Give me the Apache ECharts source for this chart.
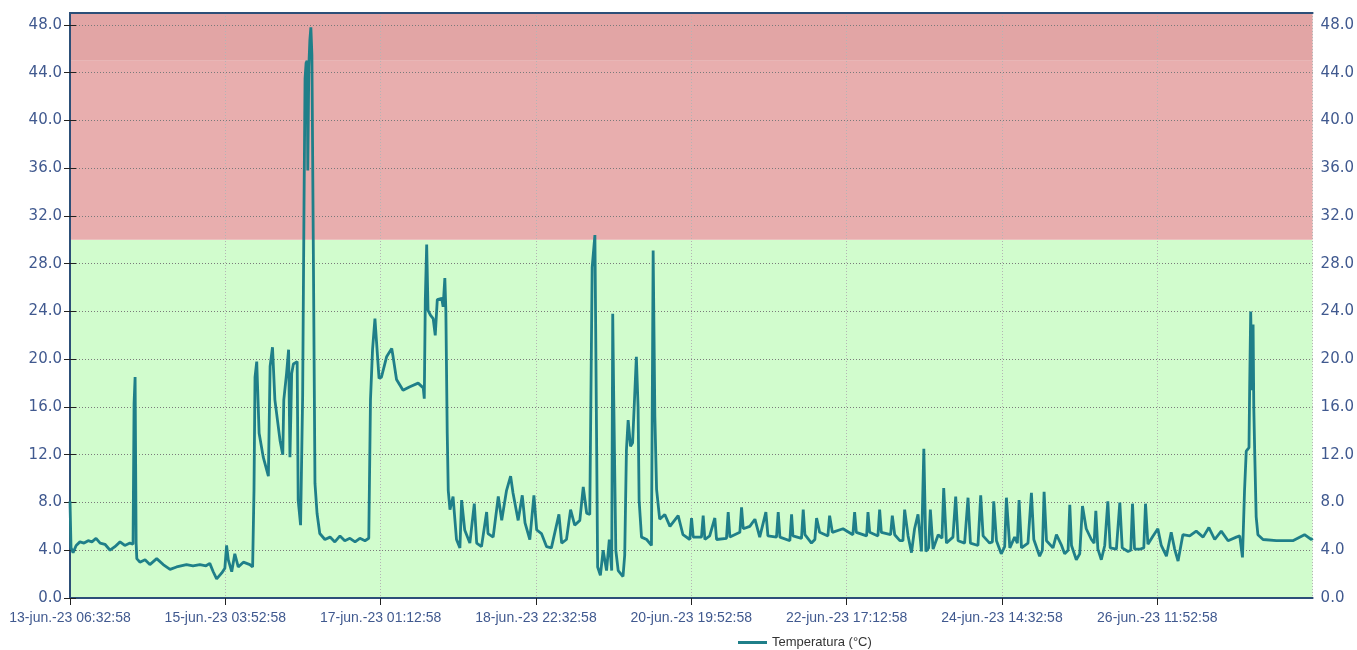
<!DOCTYPE html>
<html>
<head>
<meta charset="utf-8">
<script src="https://cdn.jsdelivr.net/npm/echarts@6/dist/echarts.min.js"></script>
<style>
html,body{margin:0;padding:0;background:#fff;}
#chart{width:1357px;height:650px;}
</style>
</head>
<body>
<div id="chart"></div>
<script>
// Start of the record: 13-jun-2023 06:32:58
const startTime = { y: 2023, m: 5, d: 13, hh: 6, mm: 32, ss: 58 };
// Axis range / tick step in minutes from the start
const xMaxMinutes = 21760;
const xTickMinutes = 2720;
const yMin = 0, yMax = 49, yTick = 4;
// Alarm bands (°C)
const bandLimits = [0, 30, 45, 49];
const seriesName = 'Temperatura (°C)';

// Hours since start
const timeHours = [
0.0,0.3,0.9,1.8,2.9,4.1,5.3,6.4,7.6,8.8,10.2,11.7,13.1,14.6,16.0,17.5,18.4,18.7,19.0,19.3,19.5,
20.4,21.9,23.3,25.3,27.2,29.2,31.1,34.0,35.9,37.9,39.7,40.8,41.8,42.8,44.3,45.2,45.7,46.2,47.2,48.1,49.1,50.6,52.5,53.3,
53.7,54.0,54.5,55.2,56.4,57.9,58.4,59.1,59.8,61.3,62.1,62.4,63.2,63.8,64.2,64.7,65.2,66.3,66.6,67.3,67.9,
68.3,68.6,68.9,69.2,69.4,69.7,70.0,70.3,70.6,70.8,71.0,71.5,72.1,72.9,74.4,75.9,77.3,78.8,80.2,81.7,83.2,84.6,86.1,87.2,
87.7,88.3,89.0,89.5,90.2,90.9,92.4,93.9,94.3,95.3,97.2,99.2,101.6,103.1,103.4,103.7,104.1,104.5,105.2,106.0,106.6,107.2,
108.5,108.9,109.4,109.7,110.1,110.4,110.9,111.8,112.8,113.8,114.3,115.2,116.7,118.0,118.7,120.1,121.6,122.0,123.5,125.0,
126.0,127.4,128.6,129.3,130.8,132.0,132.8,134.2,135.4,136.2,137.6,139.1,140.5,142.7,143.5,144.9,146.1,147.3,148.8,149.8,
150.8,151.7,152.4,153.2,153.7,154.0,154.8,155.6,156.6,157.4,158.1,158.4,158.7,159.3,160.0,161.4,161.9,162.4,162.9,163.6,
164.2,164.8,165.3,165.8,166.1,166.8,168.3,169.7,170.2,170.7,171.2,172.1,173.6,175.1,177.5,178.9,180.9,181.4,181.9,184.3,
184.8,185.3,186.7,188.2,188.7,191.6,192.1,192.6,195.5,196.0,196.5,198.4,199.9,201.3,203.1,203.7,206.2,206.7,207.2,210.1,210.6,
211.0,213.5,214.0,214.5,216.4,217.4,217.9,218.8,221.2,221.7,222.5,225.6,228.5,229.0,229.5,232.5,232.9,233.4,235.8,236.3,236.8,239.5,240.0,240.7,242.2,243.1,243.6,244.6,
245.6,246.5,247.5,248.5,249.2,249.8,250.6,251.1,251.9,253.4,254.5,255.0,255.8,257.7,258.5,259.2,261.1,262.1,262.8,265.0,265.8,266.5,
268.4,269.2,269.6,270.4,271.8,272.8,273.3,274.3,275.7,276.5,277.0,277.7,279.6,280.6,281.3,283.0,283.8,284.3,285.0,286.9,287.9,289.4,290.3,291.3,291.8,
292.3,293.7,294.7,295.5,296.6,298.1,298.9,299.4,300.0,301.0,302.0,302.9,303.6,305.4,306.4,307.1,308.8,309.6,310.1,310.7,312.4,313.4,313.9,
314.6,316.1,317.5,318.5,320.0,321.4,322.4,323.4,324.8,326.8,328.7,330.7,332.4,334.1,336.0,338.0,340.4,341.4,342.2,342.8,
343.3,344.1,344.3,344.6,345.0,345.3,345.5,345.8,346.2,346.7,348.2,352.1,356.9,360.3,362.3,362.7
];
// Temperature (°C)
const tempValues = [
8.1,4.2,3.8,4.4,4.7,4.6,4.8,4.7,5.0,4.6,4.5,4.0,4.3,4.7,4.4,4.6,4.5,16.3,18.5,4.6,3.3,
3.0,3.2,2.8,3.3,2.8,2.4,2.6,2.8,2.7,2.8,2.7,2.9,2.2,1.6,2.1,2.5,4.4,3.2,2.2,3.7,2.6,3.0,2.8,2.6,
9.0,18.5,19.8,13.8,11.8,10.2,19.4,21.0,16.6,13.2,12.0,16.6,18.8,20.8,11.8,18.8,19.6,19.8,8.2,6.1,16.9,
33.0,43.5,44.8,45.0,35.8,44.5,46.7,47.8,45.5,45.6,30.0,9.6,7.1,5.4,4.9,5.1,4.7,5.2,4.8,5.0,4.7,5.0,4.8,5.0,
16.6,20.8,23.4,21.3,18.4,18.5,20.2,20.9,20.2,18.3,17.4,17.7,18.0,17.6,16.7,25.0,29.6,24.1,23.7,23.4,22.0,25.0,
25.1,24.4,26.8,24.1,13.8,9.0,7.4,8.5,4.9,4.2,8.2,5.7,4.6,7.9,4.6,4.3,7.2,5.4,5.1,8.5,
6.5,9.0,10.2,8.8,6.5,8.6,6.3,4.9,8.6,5.7,5.4,4.3,4.2,7.0,4.6,4.9,7.4,6.1,6.5,9.3,
7.1,7.0,27.7,30.4,30.3,2.6,1.9,4.0,2.3,4.9,2.3,23.8,16.6,4.0,2.3,1.8,3.6,12.4,14.9,12.7,
13.0,16.9,20.2,16.0,8.2,5.1,4.9,4.4,29.1,15.2,9.1,6.6,7.0,6.0,6.9,5.3,4.9,6.7,5.1,5.1,
6.9,4.9,5.2,6.7,4.9,5.0,7.2,5.1,5.5,7.6,5.8,6.0,6.6,5.1,7.2,5.2,5.1,7.2,5.1,4.8,7.0,
5.2,5.0,7.4,5.3,4.6,4.9,6.7,5.5,5.2,6.9,5.5,5.8,5.3,7.2,5.5,5.2,7.2,5.5,5.2,7.4,5.5,5.3,6.9,5.3,4.8,4.8,7.4,5.2,
3.8,5.8,7.0,3.9,12.5,3.9,4.2,7.4,4.1,5.3,5.0,9.2,4.6,5.1,8.5,4.8,4.6,8.4,4.6,4.4,8.6,5.2,
4.6,4.7,8.1,4.8,3.7,4.3,8.4,4.2,5.1,4.6,8.2,4.2,4.6,8.8,4.9,3.5,4.0,8.9,4.8,4.2,5.3,4.4,3.7,4.0,7.8,
4.4,3.2,3.7,7.7,5.8,4.9,4.6,7.3,4.1,3.2,4.4,8.1,4.2,4.1,8.0,4.2,3.9,4.0,7.9,4.1,4.1,4.2,7.9,
4.5,5.2,5.8,4.4,3.5,5.5,4.1,3.1,5.3,5.2,5.6,5.1,5.9,4.9,5.6,4.8,5.1,5.2,3.4,9.0,
12.3,12.6,17.7,24.0,17.4,22.9,16.0,11.8,6.8,5.3,4.9,4.8,4.8,5.3,4.9,5.0
];

const monthNames = ['ene.','feb.','mar.','abr.','may.','jun.','jul.','ago.','sept.','oct.','nov.','dic.'];
const t0 = Date.UTC(startTime.y, startTime.m, startTime.d, startTime.hh, startTime.mm, startTime.ss);
function pad(n){ return (n < 10 ? '0' : '') + n; }
function fmtTime(minutes){
  const d = new Date(t0 + Math.round(minutes) * 60000);
  return pad(d.getUTCDate()) + '-' + monthNames[d.getUTCMonth()] + '-' + String(d.getUTCFullYear()).slice(2) +
    ' ' + pad(d.getUTCHours()) + ':' + pad(d.getUTCMinutes()) + ':' + pad(d.getUTCSeconds());
}

const lineData = timeHours.map((h, i) => [h * 60, tempValues[i]]);

const bandColors = ['#d1fccd', '#e8aeae', '#e2a5a5'];
const bandAreas = [];
for (let i = 0; i < bandLimits.length - 1; i++) {
  bandAreas.push([{ yAxis: bandLimits[i], itemStyle: { color: bandColors[i], opacity: 1 } }, { yAxis: bandLimits[i + 1] }]);
}

const axisColor = '#2c4f78';
const labelColor = '#40598f';

const yAxisCommon = {
  type: 'value', min: yMin, max: yMax, interval: yTick, z: 3,
  axisLine: { show: true, lineStyle: { color: axisColor, width: 2 } },
  axisTick: { show: true, length: 6, lineStyle: { color: '#222', width: 1 } },
  axisLabel: { color: labelColor, fontFamily: 'DejaVu Sans', fontSize: 15, margin: 8,
    showMaxLabel: false, formatter: v => v.toFixed(1) }
};

const chart = echarts.init(document.getElementById('chart'), null, { renderer: 'canvas' });
chart.setOption({
  animation: false,
  backgroundColor: '#ffffff',
  grid: { left: 70, right: 44, top: 13, bottom: 52, containLabel: false },
  legend: {
    data: [seriesName], left: 733, top: 631, icon: 'rect', itemWidth: 29, itemHeight: 3, itemGap: 10,
    textStyle: { color: '#333', fontFamily: 'Liberation Sans', fontSize: 13 }
  },
  xAxis: [
    {
      type: 'value', min: 0, max: xMaxMinutes, interval: xTickMinutes, z: 3,
      axisLine: { show: true, onZero: false, lineStyle: { color: axisColor, width: 2 } },
      axisTick: { show: true, length: 7, lineStyle: { color: '#222', width: 1 } },
      axisLabel: { color: labelColor, fontFamily: 'Liberation Sans', fontSize: 14, margin: 13,
        showMaxLabel: false, formatter: v => fmtTime(v) },
      splitLine: { show: true, lineStyle: { color: '#b4b4b4', type: [1, 2], width: 1 } }
    },
    {
      type: 'value', position: 'top', min: 0, max: xMaxMinutes, z: 3,
      axisLine: { show: true, onZero: false, lineStyle: { color: axisColor, width: 2 } },
      axisTick: { show: false }, axisLabel: { show: false }, splitLine: { show: false }
    }
  ],
  yAxis: [
    Object.assign({}, yAxisCommon, {
      position: 'left',
      splitLine: { show: true, lineStyle: { color: '#7a7a7a', type: [1, 2], width: 1 } }
    }),
    Object.assign({}, yAxisCommon, { position: 'right', splitLine: { show: false } })
  ],
  series: [
    {
      name: 'bands', type: 'line', data: [], z: 1, silent: true,
      markArea: { silent: true, data: bandAreas }
    },
    {
      name: seriesName, type: 'line', data: lineData, z: 5,
      showSymbol: false, symbol: 'none',
      lineStyle: { color: '#1f7f89', width: 2.8 },
      itemStyle: { color: '#1f7f89' }
    }
  ]
});
</script>
</body>
</html>
